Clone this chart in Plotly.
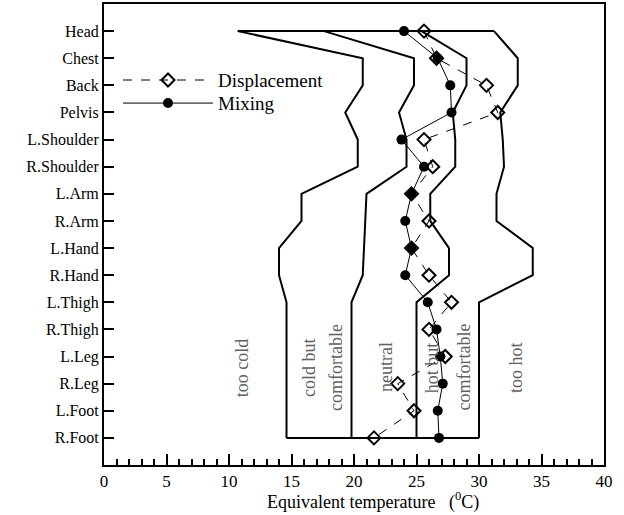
import plotly.graph_objects as go

parts = ["Head", "Chest", "Back", "Pelvis", "L.Shoulder", "R.Shoulder", "L.Arm", "R.Arm",
         "L.Hand", "R.Hand", "L.Thigh", "R.Thigh", "L.Leg", "R.Leg", "L.Foot", "R.Foot"]

too_cold_limit = [10.7, 20.7, 20.7, 19.3, 20.3, 20.3, 15.8, 15.8, 14.0, 14.0, 14.6, 14.6, 14.6, 14.6, 14.6, 14.6]
cold_comf_limit = [17.6, 24.8, 24.8, 23.6, 24.2, 24.2, 21.0, 20.9, 20.8, 20.7, 19.8, 19.8, 19.8, 19.8, 19.8, 19.8]
hot_comf_limit = [25.4, 29.0, 29.0, 27.9, 28.1, 28.1, 26.1, 26.1, 27.6, 27.6, 25.0, 25.0, 25.0, 25.0, 25.0, 25.0]
too_hot_limit = [31.2, 33.1, 33.1, 31.7, 31.9, 32.0, 31.4, 31.4, 34.3, 34.3, 30.0, 30.0, 30.0, 30.0, 30.0, 30.0]

displacement = [25.6, 26.6, 30.6, 31.5, 25.6, 26.3, 24.6, 26.0, 24.6, 26.0, 27.8, 26.0, 27.3, 23.5, 24.8, 21.6]
mixing = [24.0, 26.7, 27.7, 27.8, 23.8, 25.6, 24.6, 24.1, 24.6, 24.1, 25.9, 26.6, 26.9, 27.1, 26.7, 26.8]

zone_labels = [("too cold", 11.1), ("cold but", 16.45), ("comfortable", 18.6), ("neutral", 22.6),
               ("hot but", 26.3), ("comfortable", 28.8), ("too hot", 33.0)]

x_title = "Equivalent temperature\u00a0\u00a0\u00a0(<sup>0</sup>C)"

FONT = "Liberation Serif"
fig = go.Figure()

bound_style = dict(color="black", width=2)
for lim in [too_cold_limit, cold_comf_limit, hot_comf_limit, too_hot_limit]:
    fig.add_trace(go.Scatter(x=lim, y=parts, mode="lines", line=bound_style,
                             showlegend=False, hoverinfo="skip"))
# closing top and bottom edges of the zone chart
fig.add_trace(go.Scatter(x=[too_cold_limit[0], too_hot_limit[0]], y=[parts[0], parts[0]],
                         mode="lines", line=bound_style, showlegend=False, hoverinfo="skip"))
fig.add_trace(go.Scatter(x=[too_cold_limit[-1], too_hot_limit[-1]], y=[parts[-1], parts[-1]],
                         mode="lines", line=bound_style, showlegend=False, hoverinfo="skip"))

fig.add_trace(go.Scatter(x=displacement, y=parts, mode="lines+markers", name="Displacement",
                         legend="legend",
                         line=dict(color="black", width=1, dash="9px,9px"),
                         marker=dict(symbol="diamond-open", size=10, color="black",
                                     line=dict(width=2, color="black"))))
fig.add_trace(go.Scatter(x=mixing, y=parts, mode="lines+markers", name="Mixing",
                         legend="legend2",
                         line=dict(color="black", width=1),
                         marker=dict(symbol="circle", size=10, color="black")))

for txt, xv in zone_labels:
    fig.add_annotation(x=xv, y=12.4, text=txt, showarrow=False, textangle=-90,
                       font=dict(family=FONT, size=18, color="#606060"))

# x-axis title (placed as in the reference, slightly right of the axis centre)
fig.add_annotation(x=0.538, y=-0.079, xref="paper", yref="paper", text=x_title,
                   showarrow=False, xanchor="center", yanchor="middle",
                   font=dict(family=FONT, size=18, color="black"))

leg_common = dict(x=0.028, xanchor="left", yanchor="top", bgcolor="rgba(0,0,0,0)",
                  font=dict(family=FONT, size=19), itemwidth=90)
fig.update_layout(
    width=624, height=515,
    margin=dict(l=104, r=20, t=4, b=50, autoexpand=False),
    paper_bgcolor="white", plot_bgcolor="white",
    font=dict(family=FONT, size=18, color="black"),
    showlegend=True,
    legend=dict(y=0.876, **leg_common),
    legend2=dict(y=0.826, **leg_common),
)
fig.update_xaxes(range=[0, 40], dtick=5, tick0=0, showgrid=False, zeroline=False, automargin=False,
                 showline=True, linecolor="black", linewidth=2, mirror=True,
                 ticks="inside", ticklen=11, tickwidth=2, tickcolor="black",
                 minor=dict(dtick=1, ticks="inside", ticklen=6, tickwidth=1.5, tickcolor="black"),
                 tickfont=dict(family=FONT, size=17))
fig.update_yaxes(type="category", categoryorder="array", categoryarray=parts,
                 range=[16, -1], showgrid=False, zeroline=False, automargin=False,
                 showline=True, linecolor="black", linewidth=2, mirror=True,
                 ticks="inside", ticklen=10, tickwidth=2, tickcolor="black",
                 tickfont=dict(family=FONT, size=16))

fig.write_html("out.html", config={"displayModeBar": False},
               post_script="document.body.style.margin='0px';document.body.style.padding='0px';")
